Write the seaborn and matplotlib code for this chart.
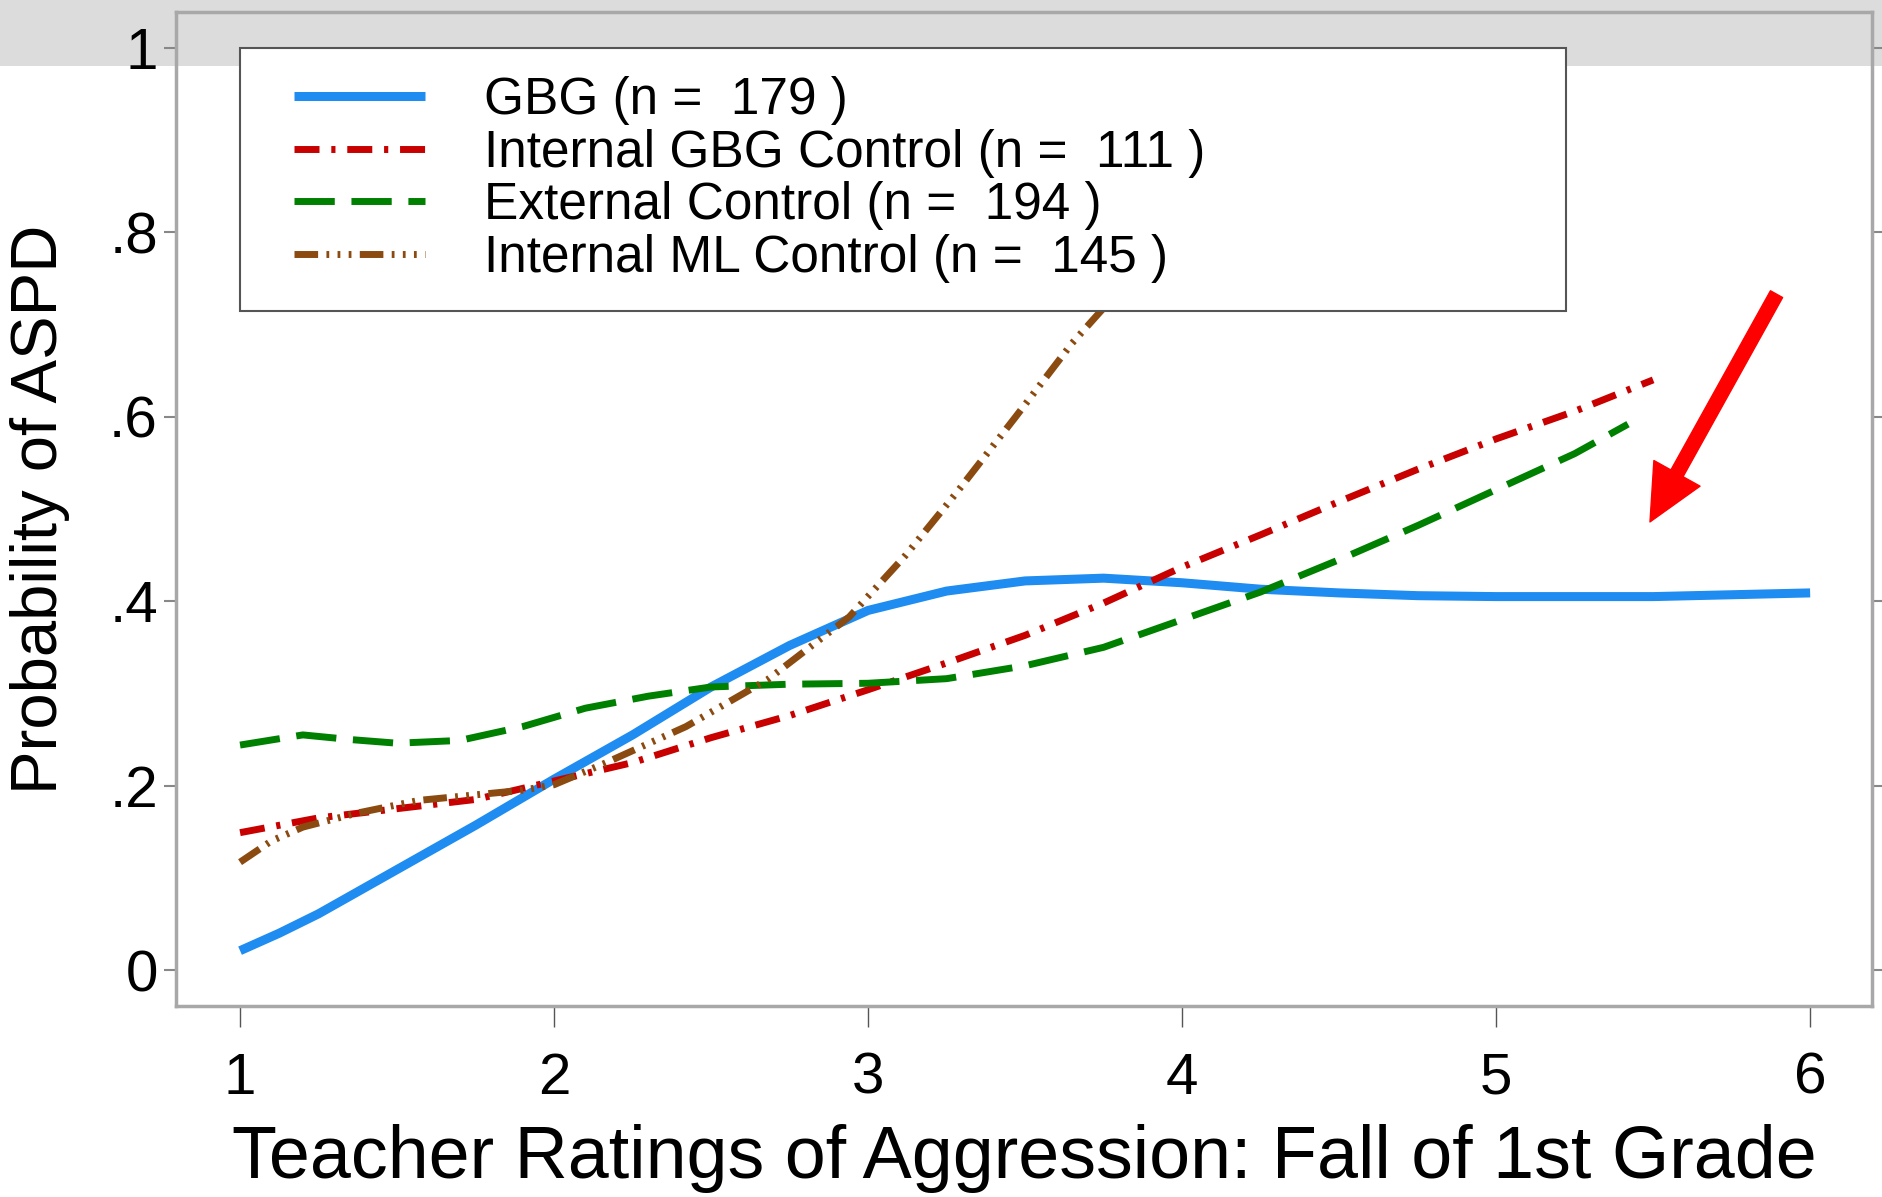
import matplotlib
matplotlib.use("Agg")
import matplotlib.pyplot as plt
from matplotlib.patches import Rectangle
from matplotlib.lines import Line2D
from matplotlib.legend_handler import HandlerLine2D
import pandas as pd
import seaborn as sns

# ratings on the x axis, probability of ASPD per group
gbg_x = [1.0, 1.125, 1.25, 1.5, 1.75, 2.0, 2.25, 2.5, 2.75, 3.0, 3.25, 3.5, 3.75, 4.0, 4.25, 4.5, 4.75, 5.0,
         5.5, 6.0]
gbg_y = [0.021, 0.040, 0.061, 0.109, 0.157, 0.207, 0.255, 0.307, 0.352, 0.390, 0.411, 0.422, 0.425, 0.420,
         0.413, 0.409, 0.406, 0.405, 0.405, 0.409]

int_gbg_x = [1.0, 1.25, 1.5, 1.75, 2.0, 2.25, 2.5, 2.75, 3.0, 3.25, 3.5, 3.75, 4.0, 4.25, 4.5, 4.75, 5.0, 5.25, 5.5]
int_gbg_y = [0.149, 0.165, 0.175, 0.185, 0.205, 0.225, 0.252, 0.276, 0.304, 0.333, 0.363, 0.398, 0.437, 0.472,
             0.508, 0.543, 0.576, 0.606, 0.640]

ext_x = [1.0, 1.2, 1.35, 1.5, 1.7, 1.9, 2.1, 2.3, 2.5, 2.75, 3.0, 3.25, 3.5, 3.75, 4.0, 4.25, 4.5, 4.75, 5.0,
         5.25, 5.42]
ext_y = [0.244, 0.255, 0.250, 0.246, 0.249, 0.264, 0.284, 0.297, 0.307, 0.310, 0.311, 0.316, 0.330, 0.350, 0.380,
         0.410, 0.445, 0.482, 0.521, 0.560, 0.592]

int_ml_x = [1.0, 1.1, 1.2, 1.37, 1.57, 1.9, 2.0, 2.16, 2.42, 2.68, 2.94, 3.12, 3.28, 3.47, 3.65, 3.75, 4.0, 4.2]
int_ml_y = [0.117, 0.140, 0.155, 0.170, 0.184, 0.195, 0.201, 0.224, 0.264, 0.315, 0.383, 0.450, 0.517, 0.600,
            0.680, 0.718, 0.830, 0.920]

labels = ["GBG (n =  179 )", "Internal GBG Control (n =  111 )",
          "External Control (n =  194 )", "Internal ML Control (n =  145 )"]

xticks = [1, 2, 3, 4, 5, 6]
yticks = [0, 0.2, 0.4, 0.6, 0.8, 1.0]
ytick_labels = ["0", ".2", ".4", ".6", ".8", "1"]

sns.set_style("white")
plt.rcParams['font.family'] = ['Liberation Sans', 'DejaVu Sans']
plt.rcParams['text.color'] = 'black'
plt.rcParams['axes.labelcolor'] = 'black'
plt.rcParams['xtick.color'] = 'black'
plt.rcParams['ytick.color'] = 'black'

fig = plt.figure(figsize=(18.82, 11.97), dpi=100)
fig.patch.set_facecolor('white')
# grey header band behind the plot
fig.patches.append(Rectangle((0, 1 - 66 / 1197), 1, 66 / 1197, transform=fig.transFigure,
                             facecolor='#dcdcdc', edgecolor='none', zorder=-1))

ax = fig.add_axes([176 / 1882, 1 - 1006 / 1197, 1696 / 1882, 994 / 1197])
ax.set_facecolor('none')

series = [
    (gbg_x, gbg_y, '#1e8cf0', 6.5, '-'),
    (int_gbg_x, int_gbg_y, '#c80000', 5.0, (0, (3.6, 1.7, 0.6, 1.7))),
    (ext_x, ext_y, '#008000', 5.0, (0, (5.8, 2.4))),
    (int_ml_x, int_ml_y, '#8b4a10', 5.0, (0, (3.4, 1.2, 0.4, 1.2, 0.4, 1.2, 0.4, 1.2))),
]
for (xs, ys, color, lw, ls), label in zip(series, labels):
    df = pd.DataFrame({'x': xs, 'y': ys})
    sns.lineplot(data=df, x='x', y='y', ax=ax, color=color, linewidth=lw, linestyle=ls,
                 label=label, solid_capstyle='butt', dash_capstyle='butt')

ax.set_xlim(0.796, 6.197)
ax.set_ylim(-0.039, 1.039)
ax.set_xticks(xticks)
ax.set_xticklabels([str(t) for t in xticks])
ax.set_yticks(yticks)
ax.set_yticklabels(ytick_labels)

ax.tick_params(axis='x', direction='out', length=15, width=1, color='#555555', labelsize=42, pad=18,
               bottom=True)
ax.tick_params(axis='y', direction='out', length=9, width=1.5, color='#888888', labelsize=42, pad=4,
               left=True, right=True)

for sp in ax.spines.values():
    sp.set_color('#a8a8a8')
    sp.set_linewidth(2.5)

ax.set_xlabel("Teacher Ratings of Aggression: Fall of 1st Grade", fontsize=53, labelpad=13)
ax.set_ylabel("Probability of ASPD", fontsize=47, labelpad=28)

leg = ax.legend(loc='upper left', bbox_to_anchor=(0.0377, 0.9638, 0.782, 0.0), mode='expand',
                fontsize=37, handlelength=3.05, handletextpad=1.15, labelspacing=0.07, borderpad=0.55,
                borderaxespad=0, frameon=True, fancybox=False, framealpha=1,
                handler_map={Line2D: HandlerLine2D(xpad=0.5)})
leg.get_frame().set_edgecolor('#555555')
leg.get_frame().set_linewidth(1.5)
leg.set_zorder(5)

# red arrow pointing at the flat GBG curve
ax.annotate("", xy=(5.49, 0.486), xytext=(5.893, 0.733),
            arrowprops=dict(color='#ff0000', width=10, headwidth=38, headlength=40, shrink=0))

fig.savefig("out.png", dpi=100)
